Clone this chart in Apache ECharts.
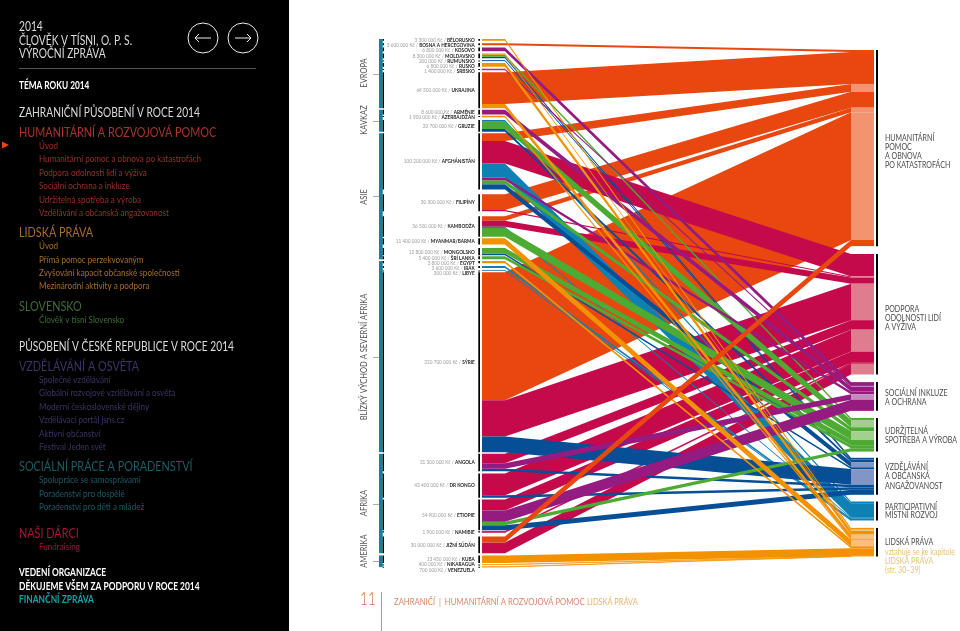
<!DOCTYPE html>
<html lang="cs"><head><meta charset="utf-8">
<style>html,body{margin:0;padding:0;background:#fff}#c{width:960px;height:631px}</style>
<script src="https://cdn.jsdelivr.net/npm/echarts@6/dist/echarts.min.js"></script>
</head><body><div id="c"></div>
<script>
// ---------- chart data (million Kč) ----------
const countries = ['BĚLORUSKO','BOSNA A HERCEGOVINA','KOSOVO','MOLDAVSKO','RUMUNSKO','RUSKO','SRBSKO','UKRAJINA',
  'ARMÉNIE','ÁZERBÁJDŽÁN','GRUZIE',
  'AFGHÁNISTÁN','FILIPÍNY','KAMBODŽA','MYANMAR/BARMA','MONGOLSKO','ŠRÍ LANKA',
  'EGYPT','IRÁK','LIBYE','SÝRIE',
  'ANGOLA','DR KONGO','ETIOPIE','NAMIBIE','JIŽNÍ SÚDÁN',
  'KUBA','NIKARAGUA','VENEZUELA'];
const totals = [3.3,3.6,6.8,8.3,0.2,6.8,1.4,64.3, 8.6,1.9,20.7, 100.2,30.3,36.5,11.4,12.8,5.4, 3.8,3.6,0.3,320.7, 31.3,43.4,54.9,1.9,30, 13.45,0.4,0.7];
const gapsBefore = [0,4.1,4.1,4.1,4.1,4.1,4.1,4.1, 2.7,2.7,5.4, 2.7,8.5,8.9,2.7,6.4,1.8, 3,5.2,4.1,3.2, 3,3.6,3,2.1,7.1, 3.9,2.7,3.6];
const regionNames = ['EVROPA','KAVKAZ','ASIE','BLÍZKÝ VÝCHOD A SEVERNÍ AFRIKA','AFRIKA','AMERIKA'];
const regionSpans = [[0,7],[8,10],[11,16],[17,20],[21,25],[26,28]];

// flows per country, one array per theme (same order as countries)
const humanitarian = [0,3.6,0,0,0,0,0,57, 0,0,0, 14,28.3,8,0,0,0, 0,0,0,228, 0,0,0,0,11, 0,0,0];
const resilience   = [0,0,0,0,0,0,0,0, 0,0,0, 40,2,11,0,0,0, 0,0,0,65, 17,39,20,1.9,19, 0,0,0];
const humanRights  = [3.3,0,0,2,0,6.8,0,7.3, 0,1.9,0, 0,0,0,11.4,0,0, 3.8,0,0,0, 0,0,0,0,0, 13.45,0.4,0.7];
const localDev     = [0,0,0,0,0,0,0,0, 0,0,3, 25,0,2,0,0,0, 0,3.6,0.3,0, 0,0,0,0,0, 0,0,0];
const inclusion    = [0,0,6.8,0,0,0,1.4,0, 8.6,0,0, 5,0,0,0,0,0, 0,0,0,0, 9.5,0,20,0,0, 0,0,0];
const production   = [0,0,0,3.5,0,0,0,0, 0,0,13, 7,0,15.5,0,9.5,5.4, 0,0,0,0, 0,0,6,0,0, 0,0,0];
const education    = [0,0,0,2.8,0.2,0,0,0, 0,0,4.7, 9.2,0,0,0,3.3,0, 0,0,0,27.7, 4.8,4.4,8.9,0,0, 0,0,0];

// themes: left-stack order follows this list
const themeValues = [humanitarian,resilience,humanRights,localDev,inclusion,production,education];
const themeColors = ['#E8470F','#C40A4B','#F39200','#0E80B4','#961B80','#4DAA33','#064E95'];
const themeTints  = ['#F29470','#DE7D8E','#FAC07A','#0E80B4','#C48BBE','#A4D08F','#7F96C7'];
const themeLight  = [[11,13,20],[12,20,22,25],[3,7,14],[],[6,21],[10,13],[11,20]];
// right column order, with the top of each block on the value axis
const rightOrder = [0,1,4,5,6,3,2];
const rightTops  = [19.6,383.5,612,676,747,825,872];
const drawOrder  = [0,1,3,6,5,4,2];
const topFlows   = [[25,0]];

const AXIS_MAX = 940;
const X = {teal0:379,teal1:382.7,tick0:373,black0:382.7,black1:384,lbar0:478.3,lbar1:480,start:482,bend:505,end:851,node:874,rbar0:876,rbar1:878};

// ---------- layout in axis units ----------
const cTop = []; let cur = 0;
totals.forEach(function(t,i){ cur += gapsBefore[i]; cTop.push(cur); cur += t; });
const flows = [];
const perCountry = countries.map(function(_,c){
  const list=[]; themeValues.forEach(function(v,t){ if(v[c]>0) list.push({c:c,t:t,v:v[c],light:themeLight[t].indexOf(c)>=0}); }); return list;
});
perCountry.forEach(function(list,c){ let y=cTop[c]; list.forEach(function(f){ f.l0=y; y+=f.v; f.l1=y; }); });
const targetSpans = [];
rightOrder.forEach(function(t,i){
  let y = rightTops[i]; const start=y;
  countries.forEach(function(_,c){
    perCountry[c].forEach(function(f){ if(f.t===t){ f.r0=y; y+=f.v; f.r1=y; } });
  });
  targetSpans.push([start,y]);
});
drawOrder.forEach(function(t){
  perCountry.forEach(function(list){ list.forEach(function(f){
    if(f.t===t && !topFlows.some(function(p){return p[0]===f.c&&p[1]===f.t;})) flows.push(f);
  }); });
});
topFlows.forEach(function(p){ perCountry[p[0]].forEach(function(f){ if(f.t===p[1]) flows.push(f); }); });

function money(m){
  const n=Math.round(m*1e6).toString();
  return n.replace(/\B(?=(\d{3})+$)/g,' ')+' Kč';
}

// ---------- side panel text ----------
const FONT='Lato, "Open Sans", sans-serif';
const W='#dcdcdc';
const menu = [
 ['2014',19,27,13,W,400],['ČLOVĚK V TÍSNI, O. P. S.',19,40.5,13,W,400],['VÝROČNÍ ZPRÁVA',19,54,13,W,400],
 ['TÉMA ROKU 2014',19,85.5,10.5,'#fff',700],
 ['ZAHRANIČNÍ PŮSOBENÍ V ROCE 2014',19,113,12.6,W,400],
 ['HUMANITÁRNÍ A ROZVOJOVÁ POMOC',19,132.5,13.4,'#A8362A',400],
 ['Úvod',39,145.5,10,'#9A3226',400],['Humanitární pomoc a obnova po katastrofách',39,159,10,'#9A3226',400],
 ['Podpora odolnosti lidí a výživa',39,172.5,10,'#9A3226',400],['Sociální ochrana a inkluze',39,185.5,10,'#9A3226',400],
 ['Udržitelná spotřeba a výroba',39,199.5,10,'#9A3226',400],['Vzdělávání a občanská angažovanost',39,212.5,10,'#9A3226',400],
 ['LIDSKÁ PRÁVA',19,233,13.4,'#A86E2C',400],
 ['Úvod',39,246,10,'#A86E2C',400],['Přímá pomoc perzekvovaným',39,259.5,10,'#A86E2C',400],
 ['Zvyšování kapacit občanské společnosti',39,273,10,'#A86E2C',400],['Mezinárodní aktivity a podpora',39,286,10,'#A86E2C',400],
 ['SLOVENSKO',19,306.5,13.4,'#3F6E35',400],['Člověk v tísni Slovensko',39,319.5,10,'#3F6E35',400],
 ['PŮSOBENÍ V ČESKÉ REPUBLICE V ROCE 2014',19,347,12.6,W,400],
 ['VZDĚLÁVÁNÍ A OSVĚTA',19,367,13.4,'#3A3565',400],
 ['Společné vzdělávání',39,380,10,'#3A3565',400],['Globální rozvojové vzdělávání a osvěta',39,393,10,'#3A3565',400],
 ['Moderní československé dějiny',39,407,10,'#3A3565',400],['Vzdělávací portál jsns.cz',39,420,10,'#3A3565',400],
 ['Aktivní občanství',39,434,10,'#3A3565',400],['Festival Jeden svět',39,447,10,'#3A3565',400],
 ['SOCIÁLNÍ PRÁCE A PORADENSTVÍ',19,467,13.4,'#1D5C68',400],
 ['Spolupráce se samosprávami',39,480,10,'#1D5C68',400],['Poradenství pro dospělé',39,494,10,'#1D5C68',400],
 ['Poradenství pro děti a mládež',39,507,10,'#1D5C68',400],
 ['NAŠI DÁRCI',19,534,13.4,'#A3163A',400],['Fundraising',39,547,10,'#A3163A',400],
 ['VEDENÍ ORGANIZACE',19,573,10.4,'#fff',700],['DĚKUJEME VŠEM ZA PODPORU V ROCE 2014',19,587,10.4,'#fff',700],
 ['FINANČNÍ ZPRÁVA',19,600,10.4,'#17A2A8',700]
];
const G='#4a4a4a';
const sideLabels = [
 ['HUMANITÁRNÍ',885,138,G],['POMOC',885,147,G],['A OBNOVA',885,156.5,G],['PO KATASTROFÁCH',885,165.5,G],
 ['PODPORA',885,309,G],['ODOLNOSTI LIDÍ',885,318,G],['A VÝŽIVA',885,327,G],
 ['SOCIÁLNÍ INKLUZE',885,392.7,G],['A OCHRANA',885,402,G],
 ['UDRŽITELNÁ',885,431,G],['SPOTŘEBA A VÝROBA',885,440,G],
 ['VZDĚLÁVÁNÍ',885,466.7,G],['A OBČANSKÁ',885,476,G],['ANGAŽOVANOST',885,486,G],
 ['PARTICIPATIVNÍ',885,507,G],['MÍSTNÍ ROZVOJ',885,515.6,G],
 ['LIDSKÁ PRÁVA',885,542,G],['vztahuje se ke kapitole',885,552,'#E8C27A'],['LIDSKÁ PRÁVA',885,561,'#E8C27A'],['(str. 30–39)',885,570,'#E8C27A']
];
const regionLabelPos = [[364,73],[364,120],[364,197],[364,357],[364,503],[364,551]];

function txt(t,x,y,size,fill,weight,sx,extra){
  return Object.assign({type:'text',x:x,y:y,scaleX:sx||1,silent:true,z:20,style:{text:t,fill:fill,font:(weight||400)+' '+size+'px '+FONT,verticalAlign:'middle',align:'left'}},extra||{});
}
const graphics = [{type:'rect',z:0,shape:{x:0,y:0,width:289,height:631},style:{fill:'#000'}}];
menu.forEach(function(m,i){ graphics.push(txt(m[0],m[1],m[2],m[3],m[4],m[5],i<4?0.79:0.81)); });
sideLabels.forEach(function(m){ graphics.push(txt(m[0],m[1],m[2],8.8,m[3],400,0.8)); });
regionNames.forEach(function(n,i){
  const g=txt(n,regionLabelPos[i][0],regionLabelPos[i][1],9.2,'#555',400,0.82,{rotation:Math.PI/2});
  g.style.align='center'; graphics.push(g);
});
graphics.push({type:'rect',z:20,shape:{x:19,y:68,width:237,height:1},style:{fill:'#555'}});
graphics.push({type:'polygon',z:20,shape:{points:[[2,141.5],[9,145],[2,148.5]]},style:{fill:'#E8470F'}});
[203,243].forEach(function(cx,i){
  graphics.push({type:'circle',z:20,shape:{cx:cx,cy:38,r:15},style:{fill:'none',stroke:'#eee',lineWidth:1}});
  const d=i===0?-1:1;
  graphics.push({type:'polyline',z:20,shape:{points:[[cx-d*8,38],[cx+d*8,38]]},style:{stroke:'#eee',lineWidth:1,fill:'none'}});
  graphics.push({type:'polyline',z:20,shape:{points:[[cx+d*4,34],[cx+d*8,38],[cx+d*4,42]]},style:{stroke:'#eee',lineWidth:1,fill:'none'}});
});
graphics.push(txt('11',360,600,17,'#C46A4E',300,0.8));
graphics.push({type:'rect',z:20,shape:{x:381,y:592,width:1,height:39},style:{fill:'#D98E78'}});
graphics.push(txt('ZAHRANIČÍ  |  HUMANITÁRNÍ A ROZVOJOVÁ POMOC',394,602,9.4,'#D8856A',400,0.82));
graphics.push(txt('LIDSKÁ PRÁVA',587,602,9.4,'#EDB260',400,0.79));

// ---------- series ----------
function rectOf(api,x0,x1,u0,u1,fill,minH){
  let a=api.coord([x0,u0]), b=api.coord([x1,u1]);
  let h=Math.max(b[1]-a[1],minH||0);
  return {type:'rect',shape:{x:a[0],y:a[1],width:b[0]-a[0],height:h},style:{fill:fill}};
}
const linkSeries = {
  type:'custom',coordinateSystem:'cartesian2d',silent:true,clip:false,z:3,
  data:flows.map(function(f,i){return [i];}),
  renderItem:function(p,api){
    const f=flows[api.value(0)];
    const pt=function(x,u){return api.coord([x,u]);};
    const pts=[pt(X.start,f.l0),pt(X.bend,f.l0),pt(X.end,f.r0),pt(X.end,f.r1),pt(X.bend,f.l1),pt(X.start,f.l1)];
    const col=themeColors[f.t];
    return {type:'polygon',shape:{points:pts},style:{fill:col,stroke:f.v<2?col:null,lineWidth:f.v<2?0.6:0}};
  }
};
const nodeSeries = {
  type:'custom',coordinateSystem:'cartesian2d',silent:true,clip:false,z:4,
  data:flows.map(function(f,i){return [i];}),
  renderItem:function(p,api){
    const f=flows[api.value(0)];
    return rectOf(api,X.end,X.node,f.r0,f.r1,f.light?themeTints[f.t]:themeColors[f.t]);
  }
};
const countryBars = {
  type:'custom',coordinateSystem:'cartesian2d',silent:true,clip:false,z:5,
  data:countries.map(function(c,i){return [i];}),
  renderItem:function(p,api){
    const i=api.value(0);
    return {type:'group',children:[
      rectOf(api,X.lbar0,X.lbar1,cTop[i],cTop[i]+totals[i],'#000',1),
      rectOf(api,X.black0,X.black1,cTop[i],cTop[i]+totals[i],'#000',1)
    ]};
  }
};
const regionBars = {
  type:'custom',coordinateSystem:'cartesian2d',silent:true,clip:false,z:4,
  data:regionSpans.map(function(s,i){return [i];}),
  renderItem:function(p,api){
    const s=regionSpans[api.value(0)];
    const u0=cTop[s[0]],u1=cTop[s[1]]+totals[s[1]];
    const mid=api.coord([X.teal0,(u0+u1)/2]);
    return {type:'group',children:[
      rectOf(api,X.teal0,X.teal1,u0,u1,'#11829B'),
      {type:'rect',shape:{x:X.tick0,y:Math.round(mid[1]),width:X.teal0-X.tick0,height:0.7},style:{fill:'#888'}}
    ]};
  }
};
const targetBars = {
  type:'custom',coordinateSystem:'cartesian2d',silent:true,clip:false,z:5,
  data:targetSpans.map(function(s,i){return [i];}),
  renderItem:function(p,api){
    const s=targetSpans[api.value(0)];
    return rectOf(api,X.rbar0,X.rbar1,s[0],s[1],'#000');
  }
};
const labelSeries = {
  type:'custom',coordinateSystem:'cartesian2d',silent:true,clip:false,z:6,
  data:countries.map(function(c,i){return [i];}),
  renderItem:function(p,api){
    const i=api.value(0);
    let y=-1e9;
    for(let k=0;k<=i;k++){
      const c=api.coord([X.lbar0,cTop[k]+totals[k]/2]);
      y=Math.max(c[1],y+5.2);
    }
    return {type:'text',x:X.lbar0-3.5,y:y,scaleX:0.84,style:{
      text:'{a|'+money(totals[i])+' / }{b|'+countries[i]+'}',align:'right',verticalAlign:'middle',
      rich:{a:{fill:'#9a9a9a',font:'400 5.6px '+FONT},b:{fill:'#222',font:'700 5.6px '+FONT}}
    }};
  }
};

const chart = echarts.init(document.getElementById('c'),null,{renderer:'canvas'});
chart.setOption({
  animation:false,backgroundColor:'#fff',
  grid:{left:379,top:39,width:499,height:527,containLabel:false},
  xAxis:{type:'value',min:379,max:878,show:false},
  yAxis:{type:'value',min:0,max:AXIS_MAX,inverse:true,show:false},
  graphic:{elements:graphics},
  series:[linkSeries,nodeSeries,regionBars,countryBars,targetBars,labelSeries]
});
</script></body></html>
